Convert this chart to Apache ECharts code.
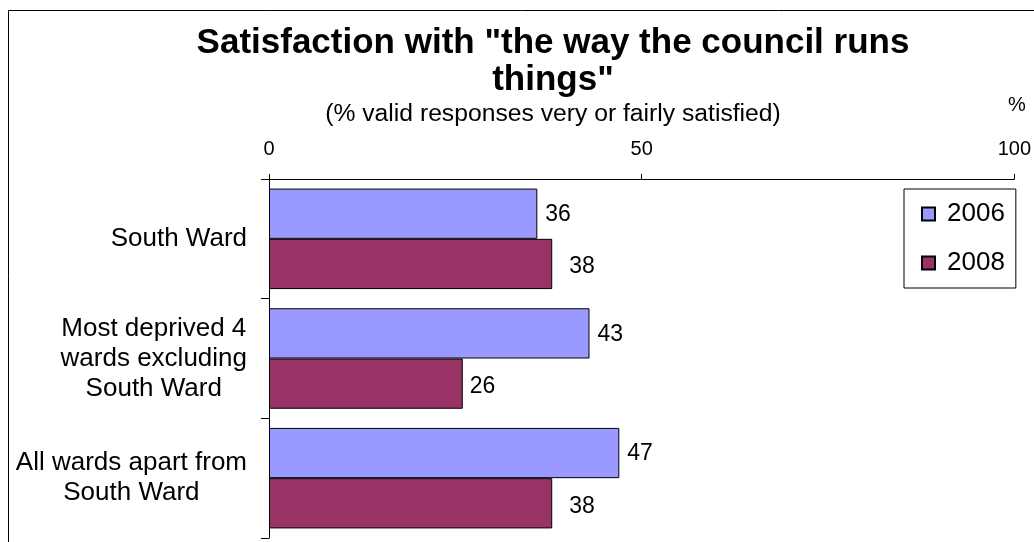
<!DOCTYPE html>
<html>
<head>
<meta charset="utf-8">
<script src="https://cdn.jsdelivr.net/npm/echarts@6/dist/echarts.min.js"></script>
<style>
html,body{margin:0;padding:0;background:#fff;}
#chart{width:1034px;height:542px;}
</style>
</head>
<body>
<div id="chart"></div>
<script>
// ---- data ----
const categories = ['South Ward', 'Most deprived 4\nwards excluding\nSouth Ward', 'All wards apart from\nSouth Ward'];
const seriesNames = ['2006', '2008'];
const values2006 = [36, 43, 47];
const values2008 = [38, 26, 38];
const xTicks = [0, 50, 100];

// ---- styles ----
const FONT = '"Liberation Sans", Arial, sans-serif';
const colors = ['#9999FF', '#993366'];
const labelDistance2008 = [17, 7, 17];

const chart = echarts.init(document.getElementById('chart'), null, {renderer: 'canvas'});

function makeData(vals, dist) {
  return vals.map((v, i) => dist ? {value: v, label: {distance: dist[i]}} : v);
}

const option = {
  backgroundColor: '#fff',
  animation: false,
  title: {
    text: 'Satisfaction with "the way the council runs\nthings"',
    subtext: '(% valid responses very or fairly satisfied)',
    left: 553,
    top: 25,
    padding: 0,
    textAlign: 'center',
    itemGap: 3,
    textStyle: {fontFamily: FONT, fontWeight: 'bold', fontSize: 35, lineHeight: 37, color: '#000'},
    subtextStyle: {fontFamily: FONT, fontSize: 24.7, lineHeight: 25, color: '#000'}
  },
  legend: {
    orient: 'vertical',
    left: 904,
    top: 189,
    padding: [12, 11, 12, 17],
    borderColor: '#000',
    borderWidth: 1,
    icon: 'rect',
    itemWidth: 13,
    itemHeight: 13,
    itemGap: 23,
    data: seriesNames,
    textStyle: {fontFamily: FONT, fontSize: 26, color: '#000', padding: [0, 0, 0, 7]}
  },
  grid: {left: 269, right: 16, top: 179, bottom: 4, containLabel: false},
  xAxis: {
    type: 'value',
    position: 'top',
    min: xTicks[0],
    max: xTicks[xTicks.length - 1],
    interval: xTicks[1] - xTicks[0],
    axisLine: {show: true, lineStyle: {color: '#000', width: 1}},
    axisTick: {show: true, length: 5, lineStyle: {color: '#000'}},
    splitLine: {show: false},
    axisLabel: {fontFamily: FONT, fontSize: 20, color: '#000', margin: 20}
  },
  yAxis: {
    type: 'category',
    inverse: true,
    data: categories,
    axisLine: {show: true, lineStyle: {color: '#000', width: 1}},
    axisTick: {show: true, length: 8, lineStyle: {color: '#000'}},
    axisLabel: {
      margin: 22,
      align: 'right',
      fontFamily: FONT,
      fontSize: 26,
      lineHeight: 30,
      color: '#000',
      formatter: v => v.split('\n').map(l => '{c|' + l + '}').join('\n'),
      rich: {c: {align: 'center', fontFamily: FONT, fontSize: 26, lineHeight: 30, color: '#000'}}
    }
  },
  series: [
    {
      name: seriesNames[0],
      type: 'bar',
      data: makeData(values2006),
      barGap: '0%',
      barCategoryGap: '16%',
      itemStyle: {color: colors[0], borderColor: '#000', borderWidth: 1},
      label: {show: true, position: 'right', distance: 8, offset: [0, 1], fontFamily: FONT, fontSize: 23, color: '#000'}
    },
    {
      name: seriesNames[1],
      type: 'bar',
      data: makeData(values2008, labelDistance2008),
      barGap: '0%',
      barCategoryGap: '16%',
      itemStyle: {color: colors[1], borderColor: '#000', borderWidth: 1},
      label: {show: true, position: 'right', distance: 7, offset: [0, 3], fontFamily: FONT, fontSize: 23, color: '#000'}
    }
  ],
  graphic: [
    {type: 'rect', z: -10, silent: true,
     shape: {x: 8.5, y: 10.5, width: 1200, height: 700},
     style: {fill: 'none', stroke: '#000', lineWidth: 1}},
    {type: 'text', x: 1017, y: 105, silent: true,
     style: {text: '%', fontFamily: FONT, fontSize: 20, fill: '#000', align: 'center', verticalAlign: 'middle'}}
  ]
};
chart.setOption(option);
</script>
</body>
</html>
